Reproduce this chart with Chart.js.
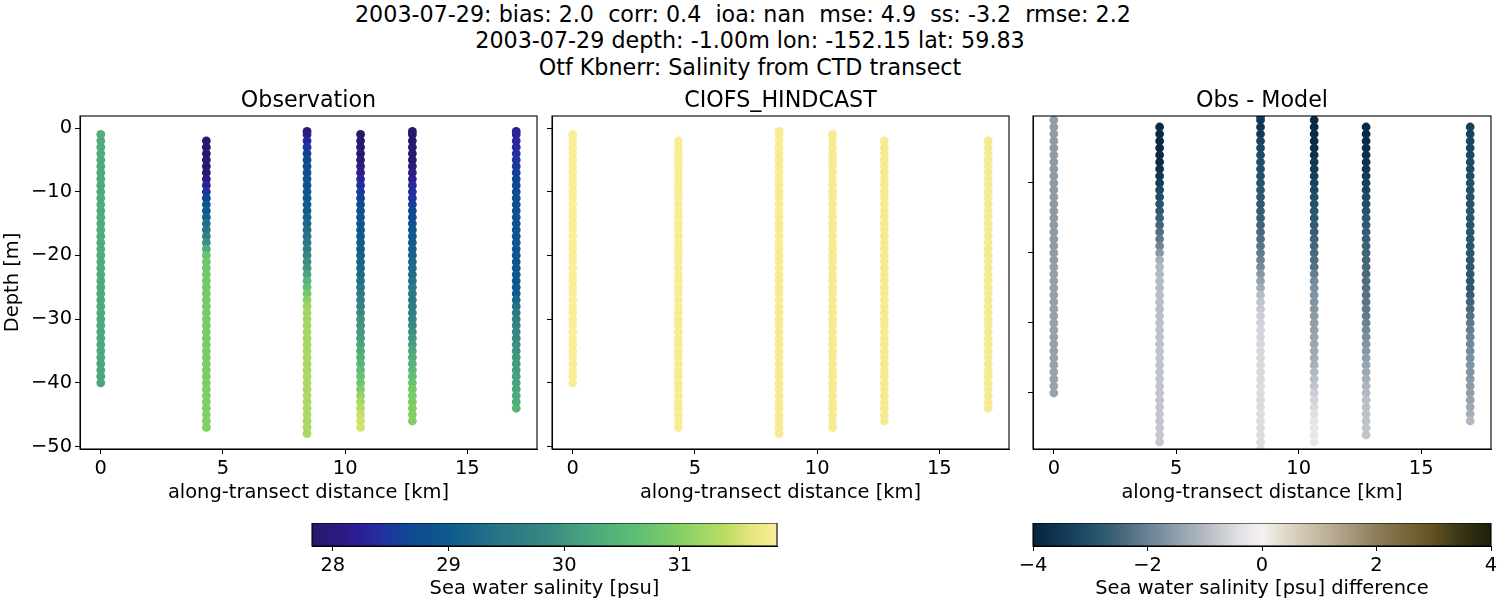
<!DOCTYPE html>
<html><head><meta charset="utf-8">
<style>
html,body{margin:0;padding:0;background:#fff;width:1500px;height:600px;overflow:hidden}
canvas{position:absolute;display:block}
.sup{position:absolute;left:0;width:1500px;text-align:center;white-space:pre;font-family:"DejaVu Sans";font-size:22.22px;line-height:26px;color:#000}
</style>
<script src="https://cdn.jsdelivr.net/npm/chart.js@4"></script>
</head><body>
<div class="sup" style="top:1px">2003-07-29: bias: 2.0  corr: 0.4  ioa: nan  mse: 4.9  ss: -3.2  rmse: 2.2  </div>
<div class="sup" style="top:27px">2003-07-29 depth: -1.00m lon: -152.15 lat: 59.83</div>
<div class="sup" style="top:54px">Otf Kbnerr: Salinity from CTD transect</div>
<script>
// ---------- categories / labels ----------
const stationKm = [0, 4.32, 8.44, 10.63, 12.75, 17.0];
const panelTitles = ['Observation', 'CIOFS_HINDCAST', 'Obs - Model'];
const xTicks = [0, 5, 10, 15];
const yTicksLeft = [0, -10, -20, -30, -40, -50];
const yTicksDiff = [-10, -20, -30, -40];
const salinityTicks = [28, 29, 30, 31];
const diffTicks = [-4, -2, 0, 2, 4];

// ---------- depths (m) ----------
const depth0 = [-1,-2,-3,-4,-5,-6,-7,-8,-9,-10,-11,-12,-13,-14,-15,-16,-17,-18,-19,-20,-21,-22,-23,-24,-25,-26,-27,-28,-29,-30,-31,-32,-33,-34,-35,-36,-37,-38,-39,-40];
const depth1 = [-2,-3,-4,-5,-6,-7,-8,-9,-10,-11,-12,-13,-14,-15,-16,-17,-18,-19,-20,-21,-22,-23,-24,-25,-26,-27,-28,-29,-30,-31,-32,-33,-34,-35,-36,-37,-38,-39,-40,-41,-42,-43,-44,-45,-46,-47];
const depth2 = [-0.5,-1,-2,-3,-4,-5,-6,-7,-8,-9,-10,-11,-12,-13,-14,-15,-16,-17,-18,-19,-20,-21,-22,-23,-24,-25,-26,-27,-28,-29,-30,-31,-32,-33,-34,-35,-36,-37,-38,-39,-40,-41,-42,-43,-44,-45,-46,-47,-48];
const depth3 = [-1,-2,-3,-4,-5,-6,-7,-8,-9,-10,-11,-12,-13,-14,-15,-16,-17,-18,-19,-20,-21,-22,-23,-24,-25,-26,-27,-28,-29,-30,-31,-32,-33,-34,-35,-36,-37,-38,-39,-40,-41,-42,-43,-44,-45,-46,-47];
const depth4Obs = [-0.5,-1,-2,-3,-4,-5,-6,-7,-8,-9,-10,-11,-12,-13,-14,-15,-16,-17,-18,-19,-20,-21,-22,-23,-24,-25,-26,-27,-28,-29,-30,-31,-32,-33,-34,-35,-36,-37,-38,-39,-40,-41,-42,-43,-44,-45,-46];
const depth4Mod = [-2,-3,-4,-5,-6,-7,-8,-9,-10,-11,-12,-13,-14,-15,-16,-17,-18,-19,-20,-21,-22,-23,-24,-25,-26,-27,-28,-29,-30,-31,-32,-33,-34,-35,-36,-37,-38,-39,-40,-41,-42,-43,-44,-45,-46];
const depth5Obs = [-0.5,-1,-2,-3,-4,-5,-6,-7,-8,-9,-10,-11,-12,-13,-14,-15,-16,-17,-18,-19,-20,-21,-22,-23,-24,-25,-26,-27,-28,-29,-30,-31,-32,-33,-34,-35,-36,-37,-38,-39,-40,-41,-42,-43,-44];
const depth5Mod = [-2,-3,-4,-5,-6,-7,-8,-9,-10,-11,-12,-13,-14,-15,-16,-17,-18,-19,-20,-21,-22,-23,-24,-25,-26,-27,-28,-29,-30,-31,-32,-33,-34,-35,-36,-37,-38,-39,-40,-41,-42,-43,-44];

// ---------- observed salinity ----------
const obs0 = [30.38,30.33,30.32,30.31,30.32,30.30,30.30,30.29,30.30,30.30,30.31,30.30,30.30,30.32,30.30,30.31,30.33,30.32,30.33,30.34,30.32,30.30,30.30,30.29,30.28,30.28,30.27,30.27,30.28,30.26,30.27,30.27,30.26,30.26,30.25,30.25,30.24,30.24,30.23,30.22];
const obs1 = [27.88,27.88,27.87,27.88,27.90,27.92,28.05,28.25,28.42,28.62,28.90,29.00,29.10,29.35,29.45,29.65,29.95,30.30,30.70,30.80,30.82,30.83,30.84,30.85,30.86,30.86,30.87,30.88,30.88,30.89,30.90,30.90,30.91,30.92,30.92,30.93,30.93,30.94,30.94,30.95,30.96,30.96,30.97,30.97,30.98,30.98];
const obs2 = [28.00,28.05,28.30,28.45,28.60,28.70,28.75,28.78,28.82,28.85,28.90,28.95,29.00,29.05,29.12,29.20,29.30,29.40,29.50,29.65,29.80,29.90,30.00,30.20,30.45,30.65,30.85,31.05,31.15,31.20,31.22,31.22,31.23,31.24,31.25,31.25,31.26,31.26,31.27,31.27,31.27,31.28,31.28,31.27,31.28,31.27,31.26,31.27,31.26];
const obs3 = [27.85,27.87,27.88,27.90,27.98,28.05,28.15,28.30,28.40,28.50,28.60,28.70,28.80,28.85,28.90,28.95,29.00,29.05,29.05,29.10,29.15,29.20,29.25,29.35,29.45,29.55,29.65,29.75,29.85,29.95,30.00,30.05,30.10,30.20,30.30,30.40,30.50,30.60,30.70,30.80,30.95,31.10,31.25,31.35,31.45,31.50,31.52];
const obs4 = [27.85,27.85,27.85,27.88,27.90,27.92,27.98,28.10,28.22,28.32,28.38,28.45,28.55,28.65,28.75,28.85,28.92,29.00,29.05,29.10,29.15,29.20,29.25,29.30,29.35,29.45,29.50,29.55,29.60,29.65,29.75,29.85,29.95,30.05,30.15,30.25,30.35,30.45,30.55,30.65,30.75,30.85,30.90,30.92,30.95,30.97,31.00];
const obs5 = [28.25,28.28,28.30,28.35,28.40,28.45,28.50,28.55,28.60,28.65,28.70,28.75,28.78,28.80,28.82,28.84,28.85,28.86,28.87,28.88,28.90,28.92,28.95,28.95,28.92,28.95,29.05,29.20,29.35,29.50,29.62,29.70,29.78,29.85,29.92,29.98,30.03,30.08,30.12,30.15,30.18,30.22,30.28,30.35,30.45];

// ---------- modelled salinity ----------
const mod0 = [31.83,31.83,31.83,31.83,31.83,31.83,31.83,31.83,31.83,31.83,31.83,31.83,31.83,31.83,31.83,31.83,31.83,31.83,31.83,31.83,31.83,31.83,31.83,31.83,31.83,31.83,31.83,31.83,31.83,31.83,31.83,31.83,31.83,31.82,31.82,31.82,31.82,31.82,31.82,31.82];
const mod1 = [31.80,31.80,31.80,31.80,31.80,31.80,31.80,31.80,31.80,31.80,31.80,31.80,31.80,31.80,31.80,31.80,31.80,31.80,31.80,31.80,31.80,31.80,31.80,31.80,31.80,31.80,31.80,31.79,31.79,31.79,31.79,31.79,31.79,31.79,31.79,31.79,31.79,31.79,31.79,31.79,31.79,31.79,31.79,31.79,31.79,31.79];
const mod2 = [31.78,31.78,31.78,31.78,31.78,31.78,31.78,31.78,31.78,31.78,31.78,31.78,31.78,31.78,31.78,31.78,31.78,31.78,31.78,31.78,31.78,31.78,31.78,31.78,31.78,31.78,31.78,31.78,31.78,31.78,31.77,31.77,31.77,31.77,31.77,31.77,31.77,31.77,31.77,31.77,31.77,31.77,31.77,31.77,31.77,31.77,31.77,31.77,31.77];
const mod3 = [31.77,31.77,31.77,31.77,31.77,31.77,31.77,31.77,31.77,31.77,31.77,31.77,31.77,31.77,31.77,31.77,31.77,31.77,31.77,31.77,31.77,31.77,31.77,31.77,31.77,31.77,31.77,31.77,31.77,31.77,31.77,31.77,31.77,31.77,31.77,31.77,31.77,31.77,31.77,31.77,31.77,31.77,31.77,31.77,31.77,31.77,31.77];
const mod4 = [31.77,31.77,31.77,31.77,31.77,31.77,31.77,31.77,31.77,31.77,31.77,31.77,31.77,31.77,31.77,31.77,31.77,31.77,31.77,31.77,31.77,31.77,31.77,31.77,31.77,31.77,31.77,31.77,31.77,31.77,31.77,31.77,31.77,31.77,31.77,31.77,31.77,31.77,31.77,31.77,31.77,31.77,31.77,31.77,31.77];
const mod5 = [31.75,31.75,31.75,31.75,31.75,31.75,31.75,31.75,31.75,31.75,31.75,31.75,31.75,31.75,31.75,31.75,31.75,31.75,31.75,31.75,31.75,31.75,31.75,31.75,31.75,31.75,31.75,31.75,31.75,31.75,31.75,31.75,31.75,31.75,31.75,31.75,31.75,31.75,31.75,31.75,31.75,31.75,31.75];

// ---------- Obs - Model ----------
const diff0 = [-1.50,-1.52,-1.52,-1.53,-1.53,-1.54,-1.55,-1.55,-1.55,-1.55,-1.55,-1.55,-1.56,-1.56,-1.55,-1.55,-1.54,-1.53,-1.53,-1.52,-1.50,-1.48,-1.47,-1.46,-1.45,-1.44,-1.43,-1.42,-1.42,-1.42,-1.42,-1.42,-1.42,-1.42,-1.42,-1.42,-1.41,-1.41,-1.40,-1.40];
const diff1 = [-3.80,-3.82,-3.85,-3.85,-3.85,-3.80,-3.70,-3.55,-3.38,-3.20,-3.05,-2.90,-2.78,-2.62,-2.48,-2.32,-2.15,-1.95,-1.60,-1.20,-1.05,-1.02,-1.00,-0.98,-0.96,-0.95,-0.94,-0.92,-0.90,-0.90,-0.88,-0.88,-0.86,-0.86,-0.85,-0.85,-0.84,-0.84,-0.82,-0.82,-0.82,-0.80,-0.80,-0.80,-0.78,-0.78];
const diff2 = [-3.40,-3.50,-3.55,-3.45,-3.30,-3.15,-3.10,-3.05,-3.00,-2.95,-2.90,-2.85,-2.80,-2.75,-2.70,-2.62,-2.52,-2.42,-2.30,-2.20,-2.10,-2.00,-1.85,-1.60,-1.45,-1.25,-0.98,-0.85,-0.75,-0.68,-0.62,-0.60,-0.58,-0.56,-0.54,-0.52,-0.50,-0.50,-0.50,-0.48,-0.48,-0.48,-0.48,-0.46,-0.46,-0.46,-0.46,-0.46,-0.46];
const diff3 = [-3.85,-3.85,-3.82,-3.80,-3.72,-3.65,-3.55,-3.45,-3.35,-3.25,-3.15,-3.05,-2.95,-2.85,-2.80,-2.72,-2.65,-2.55,-2.50,-2.42,-2.35,-2.25,-2.05,-1.85,-1.75,-1.70,-1.65,-1.60,-1.55,-1.50,-1.45,-1.40,-1.35,-1.30,-1.25,-1.15,-1.05,-0.95,-0.82,-0.70,-0.60,-0.50,-0.42,-0.35,-0.30,-0.26,-0.24];
const diff4 = [-3.85,-3.85,-3.82,-3.80,-3.75,-3.65,-3.55,-3.42,-3.35,-3.25,-3.15,-3.05,-2.95,-2.85,-2.78,-2.70,-2.65,-2.60,-2.55,-2.50,-2.45,-2.40,-2.35,-2.30,-2.25,-2.20,-2.15,-2.10,-2.00,-1.90,-1.80,-1.70,-1.60,-1.50,-1.40,-1.30,-1.20,-1.10,-1.02,-0.95,-0.92,-0.90,-0.88,-0.85,-0.82];
const diff5 = [-3.30,-3.28,-3.25,-3.20,-3.15,-3.12,-3.08,-3.05,-3.00,-2.98,-2.95,-2.92,-2.90,-2.88,-2.87,-2.86,-2.85,-2.85,-2.85,-2.82,-2.80,-2.80,-2.82,-2.78,-2.68,-2.55,-2.40,-2.28,-2.15,-2.05,-1.98,-1.90,-1.82,-1.75,-1.70,-1.65,-1.60,-1.55,-1.50,-1.42,-1.32,-1.20,-1.05];

// ---------- colour ramps ----------
const halineStops = [[0,41,24,107],[.05,44,26,125],[.1,45,30,150],[.15,35,48,160],[.2,15,70,148],[.3,15,92,140],[.4,40,117,135],[.5,55,135,130],[.6,75,168,125],[.7,95,190,118],[.79,130,207,100],[.9,195,222,100],[.95,232,230,130],[1,253,238,153]];
const diffStops = [[0,7,35,60],[.1,25,70,100],[.15,45,88,112],[.2,75,105,125],[.25,105,130,147],[.3,135,152,165],[.35,165,175,185],[.4,195,198,205],[.45,225,225,228],[.5,245,242,240],[.55,225,216,202],[.6,205,195,175],[.7,165,150,120],[.75,140,125,90],[.8,125,108,65],[.87,100,82,35],[.92,65,60,25],[1,28,30,8]];
const salinityRange = [27.82, 31.84];
const diffRange = [-4, 4];

function ramp(stops, range, v){
  const t = Math.max(0, Math.min(1, (v-range[0])/(range[1]-range[0])));
  for(let i=1;i<stops.length;i++){
    if(t<=stops[i][0]){
      const a=stops[i-1], b=stops[i], f=(t-a[0])/(b[0]-a[0]);
      return 'rgb('+[1,2,3].map(k=>Math.round(a[k]+(b[k]-a[k])*f)).join(',')+')';
    }
  }
  return 'rgb(253,238,153)';
}

const FONT = 'DejaVu Sans';
const TICK = 19.44, LABEL = 19.44, TITLE = 22.22;
const minus = v => String(v).replace('-', '\u2212');
Chart.defaults.font.family = FONT;
Chart.defaults.color = '#000';

const frame = {id:'frame', afterDatasetsDraw(c){
  const a=c.chartArea, x=c.ctx; x.save(); x.strokeStyle='#000'; x.lineWidth=1.1;
  x.strokeRect(a.left,a.top,a.right-a.left,a.bottom-a.top); x.restore();
}};

function makeCanvas(left, top, w, h){
  const el=document.createElement('canvas');
  el.width=w; el.height=h; el.style.cssText=`left:${left}px;top:${top}px;width:${w}px;height:${h}px`;
  document.body.appendChild(el); return el;
}

function panel(o){
  const TOP=116, BOT=449, titleH=30, leftS=o.showY?80:20, rightS=6, botS=62;
  const left=Math.round(o.left)-leftS, top=Math.round(TOP)-titleH;
  const w=leftS+Math.round(o.right-o.left)+rightS, h=titleH+Math.round(BOT-TOP)+botS;
  const datasets=o.series.map((s,i)=>({
    data:s.d.map((y,j)=>({x:stationKm[i],y})),
    values:s.v,
    showLine:false, pointRadius:4.4, pointHoverRadius:4.4, pointBorderWidth:0,
    pointBackgroundColor:c=>ramp(o.stops,o.range,s.v[c.dataIndex]),
    clip:0
  }));
  new Chart(makeCanvas(left,top,w,h),{
    type:'scatter', data:{datasets}, plugins:[frame],
    options:{
      responsive:false, animation:false, devicePixelRatio:1,
      layout:{autoPadding:false,padding:{left:0,top:0,right:rightS,bottom:0}},
      plugins:{legend:{display:false},tooltip:{enabled:false},
        title:{display:true,text:o.title,fullSize:false,padding:0,color:'#000',
          font:{family:FONT,size:TITLE,weight:'normal',lineHeight:titleH+'px'}}},
      scales:{
        x:{type:'linear',min:-0.85,max:17.85,
          afterBuildTicks:s=>{s.ticks=xTicks.map(value=>({value}));},
          afterFit:s=>{s.height=botS;},
          border:{display:true,color:'#000',width:1},
          grid:{drawOnChartArea:false,drawTicks:true,tickLength:5,tickColor:'#000',tickWidth:1},
          ticks:{font:{size:TICK},color:'#000',padding:3,maxRotation:0,callback:v=>minus(v)},
          title:{display:true,text:'along-transect distance [km]',color:'#000',font:{size:LABEL},padding:{top:0,bottom:6}}},
        y:{type:'linear',min:o.ymin,max:o.ymax,
          afterBuildTicks:s=>{s.ticks=o.yTicks.map(value=>({value}));},
          afterFit:s=>{s.width=leftS;},
          border:{display:true,color:'#000',width:1},
          grid:{drawOnChartArea:false,drawTicks:true,tickLength:5,tickColor:'#000',tickWidth:1},
          ticks:{display:o.showY,font:{size:TICK},color:'#000',padding:3,callback:v=>minus(v)},
          title:{display:o.showY,text:'Depth [m]',color:'#000',font:{size:LABEL},padding:{top:1,bottom:0}}}
      }
    }
  });
}

function colorbar(o){
  const TOP=522.5, BOT=545, leftS=20, rightS=20, botS=55;
  const left=Math.round(o.left)-leftS, top=Math.round(TOP);
  const w=leftS+Math.round(o.right-o.left)+rightS, h=Math.round(BOT-TOP)+botS;
  new Chart(makeCanvas(left,top,w,h),{
    type:'bar', plugins:[frame],
    data:{labels:[o.label],datasets:[{data:[o.range],borderWidth:0,barPercentage:1,categoryPercentage:1,
      backgroundColor:c=>{
        const a=c.chart.chartArea; if(!a) return '#888';
        const g=c.chart.ctx.createLinearGradient(a.left,0,a.right,0);
        o.stops.forEach(s=>g.addColorStop(s[0],`rgb(${s[1]},${s[2]},${s[3]})`));
        return g;
      }}]},
    options:{
      indexAxis:'y', responsive:false, animation:false, devicePixelRatio:1,
      layout:{autoPadding:false,padding:{left:leftS,top:0,right:rightS,bottom:0}},
      plugins:{legend:{display:false},tooltip:{enabled:false}},
      scales:{
        y:{display:false},
        x:{type:'linear',min:o.range[0],max:o.range[1],
          afterBuildTicks:s=>{s.ticks=o.ticks.map(value=>({value}));},
          afterFit:s=>{s.height=botS;},
          border:{display:true,color:'#000',width:1},
          grid:{drawOnChartArea:false,drawTicks:true,tickLength:5,tickColor:'#000',tickWidth:1},
          ticks:{font:{size:TICK},color:'#000',padding:3,maxRotation:0,callback:v=>minus(v)},
          title:{display:true,text:o.label,color:'#000',font:{size:LABEL},padding:{top:0,bottom:0}}}
      }
    }
  });
}

panel({left:80,right:537,title:panelTitles[0],showY:true,ymin:-50.4,ymax:1.9,yTicks:yTicksLeft,stops:halineStops,range:salinityRange,
  series:[{d:depth0,v:obs0},{d:depth1,v:obs1},{d:depth2,v:obs2},{d:depth3,v:obs3},{d:depth4Obs,v:obs4},{d:depth5Obs,v:obs5}]});
panel({left:552,right:1009,title:panelTitles[1],showY:false,ymin:-50.4,ymax:1.9,yTicks:yTicksLeft,stops:halineStops,range:salinityRange,
  series:[{d:depth0,v:mod0},{d:depth1,v:mod1},{d:depth2,v:mod2},{d:depth3,v:mod3},{d:depth4Mod,v:mod4},{d:depth5Mod,v:mod5}]});
panel({left:1033,right:1491,title:panelTitles[2],showY:false,ymin:-48,ymax:-0.43,yTicks:yTicksDiff,stops:diffStops,range:diffRange,
  series:[{d:depth0,v:diff0},{d:depth1,v:diff1},{d:depth2,v:diff2},{d:depth3,v:diff3},{d:depth4Mod,v:diff4},{d:depth5Mod,v:diff5}]});
colorbar({left:312.3,right:777.3,label:'Sea water salinity [psu]',range:salinityRange,ticks:salinityTicks,stops:halineStops});
colorbar({left:1033,right:1491,label:'Sea water salinity [psu] difference',range:diffRange,ticks:diffTicks,stops:diffStops});
</script>
</body></html>
